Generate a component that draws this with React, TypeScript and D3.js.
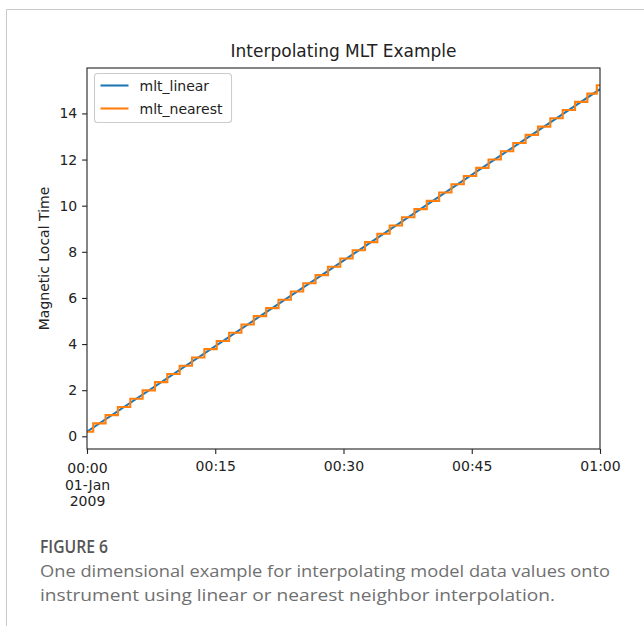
import React, { useEffect, useRef } from 'react';
import * as d3 from 'd3';

// minutes after 2009-01-01 00:00 UTC
const linearMinutes = [0, 30, 60];
const linearValues = [0.2, 7.62, 15.05];

const nearestMinutes = [
  0, 1.45, 2.89, 4.34, 5.78, 7.23, 8.67, 10.12, 11.56, 13.01,
  14.45, 15.9, 17.34, 18.79, 20.23, 21.68, 23.12, 24.57, 26.01, 27.46,
  28.9, 30.35, 31.79, 33.24, 34.68, 36.13, 37.57, 39.02, 40.46, 41.91,
  43.35, 44.8, 46.24, 47.69, 49.13, 50.58, 52.02, 53.47, 54.91, 56.36,
  57.8, 59.25, 60,
];
const nearestValues = [
  0.2, 0.56, 0.92, 1.27, 1.63, 1.99, 2.35, 2.7, 3.06, 3.42,
  3.78, 4.13, 4.49, 4.85, 5.21, 5.56, 5.92, 6.28, 6.64, 6.99,
  7.35, 7.71, 8.07, 8.42, 8.78, 9.14, 9.5, 9.85, 10.21, 10.57,
  10.93, 11.29, 11.64, 12.0, 12.36, 12.72, 13.07, 13.43, 13.79, 14.15,
  14.5, 14.86, 15.22,
];

const yTicks = [0, 2, 4, 6, 8, 10, 12, 14];
const xTickMinutes = [0, 15, 30, 45, 60];
const seriesNames = ['mlt_linear', 'mlt_nearest'];
const seriesColors = ['#1f77b4', '#ff7f0e'];

const captionTitle = 'FIGURE 6';
const captionLines = [
  'One dimensional example for interpolating model data values onto',
  'instrument using linear or nearest neighbor interpolation.',
];
const captionWidths = [570, 515];

const W = 644;
const H = 626;
const start = Date.UTC(2009, 0, 1, 0, 0);
const toDate = (m: number) => new Date(start + m * 60000);

const App = () => {
  const svgRef = useRef<SVGSVGElement>(null);

  useEffect(() => {
    const root = d3.select(svgRef.current);
    root.selectAll('*').remove();

    const left = 87, right = 600, top = 68, bottom = 449;
    const font = 'DejaVu Sans, sans-serif';
    const ink = '#222';

    const x = d3.scaleUtc().domain([toDate(0), toDate(60)]).range([left, right]);
    const y = d3.scaleLinear().domain([-0.55, 15.97]).range([bottom, top]);

    // outer frame of the figure panel
    root.append('path')
      .attr('d', `M6.5,${H} L6.5,9.5 L${W},9.5`)
      .attr('fill', 'none').attr('stroke', '#c9c9c9').attr('stroke-width', 1);

    root.append('defs').append('clipPath').attr('id', 'plotclip')
      .append('rect').attr('x', left).attr('y', top)
      .attr('width', right - left).attr('height', bottom - top);

    const linearData = linearMinutes.map((m, i) => ({ t: toDate(m), v: linearValues[i] }));
    const nearestData = nearestMinutes.map((m, i) => ({ t: toDate(m), v: nearestValues[i] }));

    const line = d3.line<{ t: Date; v: number }>().x(d => x(d.t)).y(d => y(d.v));
    const stepLine = d3.line<{ t: Date; v: number }>().x(d => x(d.t)).y(d => y(d.v)).curve(d3.curveStep);

    const plot = root.append('g').attr('clip-path', 'url(#plotclip)');
    plot.append('path').datum(linearData)
      .attr('fill', 'none').attr('stroke', seriesColors[0]).attr('stroke-width', 2.1)
      .attr('d', line);
    plot.append('path').datum(nearestData)
      .attr('fill', 'none').attr('stroke', seriesColors[1]).attr('stroke-width', 2.1)
      .attr('d', stepLine);

    // axes
    const yAxis = root.append('g').attr('transform', `translate(${left},0)`)
      .call(d3.axisLeft(y).tickValues(yTicks).tickSize(4.9).tickSizeOuter(0).tickPadding(4.9));
    const xAxis = root.append('g').attr('transform', `translate(0,${bottom})`)
      .call(d3.axisBottom(x).tickValues(xTickMinutes.map(toDate))
        .tickFormat(d => d3.utcFormat('%H:%M')(d as Date)).tickSize(4.9).tickSizeOuter(0).tickPadding(8));

    [xAxis, yAxis].forEach(ax => {
      ax.select('.domain').remove();
      ax.selectAll('line').attr('stroke', ink).attr('stroke-width', 1.1);
      ax.selectAll('text').attr('fill', ink).attr('font-family', font).attr('font-size', 14);
    });

    xAxis.selectAll<SVGTextElement, Date>('text').each(function (d) {
      if (+d !== start) return;
      const t = d3.select(this);
      t.text(null).attr('dy', null).attr('y', 0);
      ['00:00', '01-Jan', '2009'].forEach((s, i) => {
        t.append('tspan').attr('x', 0).attr('y', 24 + i * 16.5).text(s);
      });
    });
    xAxis.selectAll<SVGTextElement, Date>('text').filter(d => +d !== start)
      .attr('dy', null).attr('y', 22);

    // spines
    root.append('rect')
      .attr('x', left).attr('y', top).attr('width', right - left).attr('height', bottom - top)
      .attr('fill', 'none').attr('stroke', ink).attr('stroke-width', 1.1);

    root.append('text')
      .attr('x', (left + right) / 2).attr('y', 57)
      .attr('text-anchor', 'middle').attr('font-family', font).attr('font-size', 17).attr('fill', ink)
      .text('Interpolating MLT Example');

    root.append('text')
      .attr('transform', `translate(49,${(top + bottom) / 2}) rotate(-90)`)
      .attr('text-anchor', 'middle').attr('font-family', font).attr('font-size', 14).attr('fill', ink)
      .text('Magnetic Local Time');

    // legend
    const lg = root.append('g').attr('transform', 'translate(94.5,73.5)');
    lg.append('rect').attr('width', 137).attr('height', 49).attr('rx', 3)
      .attr('fill', 'white').attr('fill-opacity', 0.8).attr('stroke', '#cccccc').attr('stroke-width', 1.1);
    seriesNames.forEach((name, i) => {
      const cy = 12 + i * 23;
      lg.append('line').attr('x1', 6).attr('x2', 34).attr('y1', cy).attr('y2', cy)
        .attr('stroke', seriesColors[i]).attr('stroke-width', 2.1);
      lg.append('text').attr('x', 45).attr('y', cy + 5)
        .attr('font-family', font).attr('font-size', 14).attr('fill', ink).text(name);
    });

    // caption
    const capFont = 'Open Sans, Lato, sans-serif';
    root.append('text').attr('x', 40).attr('y', 553)
      .attr('font-family', capFont).attr('font-size', 18).attr('font-weight', 600)
      .attr('fill', '#555').attr('textLength', 68).attr('lengthAdjust', 'spacingAndGlyphs')
      .text(captionTitle);
    captionLines.forEach((s, i) => {
      root.append('text').attr('x', 40).attr('y', 577 + i * 24)
        .attr('font-family', capFont).attr('font-size', 16.5).attr('font-weight', 400)
        .attr('fill', '#707070')
        .attr('textLength', captionWidths[i]).attr('lengthAdjust', 'spacingAndGlyphs')
        .text(s);
    });
  }, []);

  return (
    <div style={{ position: 'absolute', left: 0, top: 0, width: W, height: H, background: 'white' }}>
      <svg ref={svgRef} width={W} height={H}></svg>
    </div>
  );
};

export default App;
